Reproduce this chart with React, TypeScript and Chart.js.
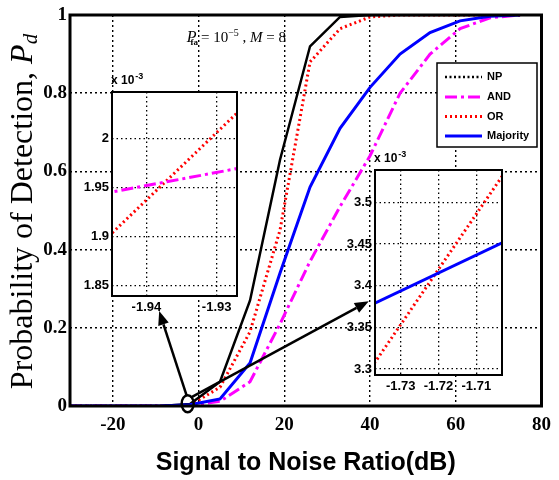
import React, { useEffect, useRef } from "react";
import { Chart, registerables } from "chart.js";
Chart.register(...registerables);

// ---------- main chart data ----------
const SNR = [-30, -23, -16, -9, -2, 5, 12, 19, 26, 33, 40, 47, 54, 61, 68, 75];
const PD_NP = [0, 0, 0, 0, 0.005, 0.062, 0.27, 0.63, 0.92, 0.995, 1, 1, 1, 1, 1, 1];
const PD_AND = [0, 0, 0, 0, 0.002, 0.012, 0.062, 0.21, 0.37, 0.51, 0.64, 0.8, 0.9, 0.965, 0.993, 1];
const PD_OR = [0, 0, 0, 0, 0.002, 0.048, 0.19, 0.45, 0.88, 0.965, 0.995, 1, 1, 1, 1, 1];
const PD_MAJ = [0, 0, 0, 0, 0.003, 0.018, 0.11, 0.34, 0.56, 0.71, 0.815, 0.9, 0.955, 0.985, 0.997, 1];
const X_TICKS = [-20, 0, 20, 40, 60, 80];
const Y_TICKS = [0, 0.2, 0.4, 0.6, 0.8, 1];
const SERIES_NAMES = ["NP", "AND", "OR", "Majority"];

// ---------- left inset data ----------
const L_SNR = [-1.95, -1.92];
const L_AND = [1.9386e-3, 1.9791e-3];
const L_OR = [1.8682e-3, 2.0755e-3];
const L_XTICKS = [-1.94, -1.93];
const L_YTICKS = [1.85e-3, 1.9e-3, 1.95e-3, 2e-3];
const L_XRANGE = [-1.9449, -1.9271];
const L_YRANGE = [1.839e-3, 2.048e-3];

// ---------- right inset data ----------
const R_SNR = [-1.74, -1.7];
const R_MAJ = [3.3721e-3, 3.4581e-3];
const R_OR = [3.2869e-3, 3.5522e-3];
const R_XTICKS = [-1.73, -1.72, -1.71];
const R_YTICKS = [3.3e-3, 3.35e-3, 3.4e-3, 3.45e-3, 3.5e-3];
const R_XRANGE = [-1.7368, -1.7032];
const R_YRANGE = [3.2928e-3, 3.5387e-3];

const STY: any = {
  NP: { color: "#000000", dash: [], width: 2.5 },
  NPLEG: { color: "#000000", dash: [2, 2.5], width: 2.5 },
  AND: { color: "#ff00ff", dash: [12, 4, 3, 4], width: 3 },
  OR: { color: "#ff0000", dash: [2, 3], width: 3 },
  MAJ: { color: "#0000ff", dash: [], width: 3 },
};

const SERIF = '"Liberation Serif", "Times New Roman", serif';
const SANS = '"Liberation Sans", Arial, sans-serif';

function ds(xs: number[], ys: number[], st: any, order: number) {
  return {
    data: xs.map((x, i) => ({ x, y: ys[i] })),
    borderColor: st.color,
    borderWidth: st.width,
    borderDash: st.dash,
    borderCapStyle: "butt",
    pointRadius: 0,
    fill: false,
    tension: 0,
    order,
  };
}

function arrow(ctx: CanvasRenderingContext2D, x1: number, y1: number, x2: number, y2: number) {
  const ang = Math.atan2(y2 - y1, x2 - x1);
  const L = 14, W = 5.5;
  const bx = x2 - L * Math.cos(ang), by = y2 - L * Math.sin(ang);
  ctx.beginPath();
  ctx.moveTo(x1, y1);
  ctx.lineTo(bx, by);
  ctx.stroke();
  ctx.beginPath();
  ctx.moveTo(x2, y2);
  ctx.lineTo(bx + W * Math.sin(ang), by - W * Math.cos(ang));
  ctx.lineTo(bx - W * Math.sin(ang), by + W * Math.cos(ang));
  ctx.closePath();
  ctx.fill();
}

function makeInset(canvas: HTMLCanvasElement, o: any) {
  const fmtY = (v: number) => String(parseFloat((v * 1000).toFixed(3)));
  return new Chart(canvas, {
    type: "line",
    data: {
      datasets: o.series.map((s: any, i: number) => ds(o.x, s.y, s.st, i)),
    },
    options: {
      animation: false,
      responsive: false,
      devicePixelRatio: 1,
      layout: { padding: { left: 0, top: o.padT, right: o.padR, bottom: 0 } },
      plugins: { legend: { display: false }, tooltip: { enabled: false } },
      scales: {
        x: {
          type: "linear",
          min: o.xr[0],
          max: o.xr[1],
          afterFit: (s: any) => { s.height = o.padB; },
          afterBuildTicks: (s: any) => { s.ticks = o.xt.map((v: number) => ({ value: v })); },
          ticks: {
            font: { family: SANS, size: 13, weight: "bold" },
            color: "#000",
            padding: 4,
            maxRotation: 0,
            callback: (v: any) => Number(v).toFixed(2),
          },
          grid: { color: "#000", lineWidth: 1.3, drawTicks: false },
          border: { display: false, dash: [1.5, 3] },
        },
        y: {
          type: "linear",
          min: o.yr[0],
          max: o.yr[1],
          afterFit: (s: any) => { s.width = o.padL; },
          afterBuildTicks: (s: any) => { s.ticks = o.yt.map((v: number) => ({ value: v })); },
          ticks: {
            font: { family: SANS, size: 13, weight: "bold" },
            color: "#000",
            padding: 3,
            callback: (v: any) => fmtY(Number(v)),
          },
          grid: { color: "#000", lineWidth: 1.3, drawTicks: false },
          border: { display: false, dash: [1.5, 3] },
        },
      },
    } as any,
    plugins: [
      {
        id: "insetDeco",
        beforeDraw(chart: any) {
          const { ctx, chartArea: a } = chart;
          ctx.save();
          ctx.fillStyle = "#fff";
          ctx.fillRect(a.left, a.top, a.right - a.left, a.bottom - a.top);
          ctx.restore();
        },
        afterDraw(chart: any) {
          const { ctx, chartArea: a } = chart;
          ctx.save();
          ctx.strokeStyle = "#000";
          ctx.lineWidth = 2;
          ctx.strokeRect(a.left, a.top, a.right - a.left, a.bottom - a.top);
          ctx.fillStyle = "#000";
          ctx.textBaseline = "alphabetic";
          ctx.textAlign = "left";
          ctx.font = `bold 12px ${SANS}`;
          const x0 = a.left - 1, y0 = a.top - 8;
          ctx.fillText("x 10", x0, y0);
          const w = ctx.measureText("x 10").width;
          ctx.font = `bold 9px ${SANS}`;
          ctx.fillText("-3", x0 + w + 1, y0 - 5);
          ctx.restore();
        },
      },
    ],
  });
}

export default function App() {
  const mainRef = useRef<HTMLCanvasElement>(null);
  const leftRef = useRef<HTMLCanvasElement>(null);
  const rightRef = useRef<HTMLCanvasElement>(null);

  useEffect(() => {
    const main = new Chart(mainRef.current as HTMLCanvasElement, {
      type: "line",
      data: {
        datasets: [
          ds(SNR, PD_MAJ, STY.MAJ, 0),
          ds(SNR, PD_NP, STY.NP, 1),
          ds(SNR, PD_OR, STY.OR, 2),
          ds(SNR, PD_AND, STY.AND, 3),
        ],
      },
      options: {
        animation: false,
        responsive: false,
        devicePixelRatio: 1,
        layout: { padding: { left: 0, top: 15, right: 12, bottom: 0 } },
        plugins: { legend: { display: false }, tooltip: { enabled: false } },
        scales: {
          x: {
            type: "linear",
            min: -30,
            max: 80,
            afterFit: (s: any) => { s.height = 74; },
            afterBuildTicks: (s: any) => { s.ticks = X_TICKS.map((v) => ({ value: v })); },
            ticks: {
              font: { family: SERIF, size: 19, weight: "bold" },
              color: "#000",
              padding: 8,
              maxRotation: 0,
              callback: (v: any) => String(v),
            },
            grid: { color: "#000", lineWidth: 1.4, drawTicks: false },
            border: { display: false, dash: [2, 3] },
            title: {
              display: true,
              text: "Signal to Noise Ratio(dB)",
              font: { family: SANS, size: 25, weight: "bold" },
              color: "#000",
              padding: { top: 0, bottom: 2 },
            },
          },
          y: {
            type: "linear",
            min: 0,
            max: 1,
            afterFit: (s: any) => { s.width = 70; },
            afterBuildTicks: (s: any) => { s.ticks = Y_TICKS.map((v) => ({ value: v })); },
            ticks: {
              font: { family: SERIF, size: 19, weight: "bold" },
              color: "#000",
              padding: 3,
              callback: (v: any) => String(v),
            },
            grid: { color: "#000", lineWidth: 1.4, drawTicks: false },
            border: { display: false, dash: [2, 3] },
          },
        },
      } as any,
      plugins: [
        {
          id: "mainDeco",
          afterDatasetsDraw(chart: any) {
            const { ctx, chartArea: a, scales } = chart;
            const xs = scales.x, ys = scales.y;
            ctx.save();
            // frame
            ctx.strokeStyle = "#000";
            ctx.lineWidth = 3;
            ctx.strokeRect(a.left, a.top, a.right - a.left, a.bottom - a.top);

            // circle + arrows
            ctx.lineWidth = 2.5;
            ctx.fillStyle = "#000";
            const cx = xs.getPixelForValue(-2.55), cy = ys.getPixelForValue(0.006);
            ctx.beginPath();
            ctx.ellipse(cx, cy, 6, 8.5, 0, 0, Math.PI * 2);
            ctx.stroke();
            arrow(ctx, cx - 1, cy - 8, xs.getPixelForValue(-9.2), ys.getPixelForValue(0.243));
            arrow(ctx, cx + 3, cy - 6, xs.getPixelForValue(39.7), ys.getPixelForValue(0.268));

            // annotation P_fa = 10^-5 , M = 8
            let x = xs.getPixelForValue(-2.77);
            const by = ys.getPixelForValue(0.931);
            ctx.textBaseline = "alphabetic";
            ctx.textAlign = "left";
            const seg = (t: string, f: string, dy = 0) => {
              ctx.font = f;
              ctx.fillText(t, x, by + dy);
              x += ctx.measureText(t).width;
            };
            seg("P", `italic 16px ${SERIF}`);
            x -= 6;
            seg("fa", `bold 9px ${SERIF}`, 3);
            x += 3;
            seg("= 10", `15px ${SERIF}`);
            seg("\u22125", `10px ${SERIF}`, -6);
            seg(" , ", `15px ${SERIF}`);
            seg("M", `italic 15px ${SERIF}`);
            seg(" = 8", `15px ${SERIF}`);

            // legend
            const lx = 437, ly = 63, lw = 100, lh = 84;
            ctx.fillStyle = "#fff";
            ctx.fillRect(lx, ly, lw, lh);
            ctx.strokeStyle = "#000";
            ctx.lineWidth = 1.5;
            ctx.strokeRect(lx, ly, lw, lh);
            const items = [STY.NPLEG, STY.AND, STY.OR, STY.MAJ];
            const rowY = [77, 97, 116.5, 136];
            items.forEach((st: any, i: number) => {
              ctx.beginPath();
              ctx.setLineDash(st.dash);
              ctx.lineCap = "butt";
              ctx.strokeStyle = st.color;
              ctx.lineWidth = st.width;
              ctx.moveTo(445, rowY[i]);
              ctx.lineTo(482, rowY[i]);
              ctx.stroke();
              ctx.setLineDash([]);
              ctx.fillStyle = "#000";
              ctx.font = `bold 11px ${SANS}`;
              ctx.textBaseline = "middle";
              ctx.fillText(SERIES_NAMES[i], 487, rowY[i]);
            });

            // y axis title
            ctx.save();
            ctx.translate(24, (a.top + a.bottom) / 2 + 1);
            ctx.rotate(-Math.PI / 2);
            ctx.fillStyle = "#000";
            ctx.textBaseline = "middle";
            const f1 = `32px ${SERIF}`, f2 = `italic 32px ${SERIF}`, f3 = `italic 21px ${SERIF}`;
            const t1 = "Probability of Detection, ";
            ctx.font = f1; const w1 = ctx.measureText(t1).width;
            ctx.font = f2; const w2 = ctx.measureText("P").width;
            ctx.font = f3; const w3 = ctx.measureText("d").width;
            let tx = -(w1 + w2 + w3) / 2;
            ctx.font = f1; ctx.fillText(t1, tx, 0); tx += w1;
            ctx.font = f2; ctx.fillText("P", tx, 0); tx += w2;
            ctx.font = f3; ctx.fillText("d", tx, 7);
            ctx.restore();

            ctx.restore();
          },
        },
      ],
    });

    const left = makeInset(leftRef.current as HTMLCanvasElement, {
      x: L_SNR,
      series: [
        { y: L_AND, st: STY.AND },
        { y: L_OR, st: STY.OR },
      ],
      xr: L_XRANGE, yr: L_YRANGE, xt: L_XTICKS, yt: L_YTICKS,
      padL: 45, padT: 25, padR: 8, padB: 25,
    });
    const right = makeInset(rightRef.current as HTMLCanvasElement, {
      x: R_SNR,
      series: [
        { y: R_MAJ, st: STY.MAJ },
        { y: R_OR, st: STY.OR },
      ],
      xr: R_XRANGE, yr: R_YRANGE, xt: R_XTICKS, yt: R_YTICKS,
      padL: 45, padT: 25, padR: 8, padB: 25,
    });

    return () => {
      main.destroy();
      left.destroy();
      right.destroy();
    };
  }, []);

  return (
    <div style={{ position: "absolute", left: 0, top: 0, width: 559, height: 480, background: "#fff" }}>
      <canvas ref={mainRef} width={559} height={480} style={{ position: "absolute", left: 0, top: 0 }} />
      <canvas ref={leftRef} width={45 + 125 + 8} height={25 + 204 + 25} style={{ position: "absolute", left: 112 - 45, top: 92 - 25 }} />
      <canvas ref={rightRef} width={45 + 127 + 8} height={25 + 205 + 25} style={{ position: "absolute", left: 375 - 45, top: 170 - 25 }} />
    </div>
  );
}
